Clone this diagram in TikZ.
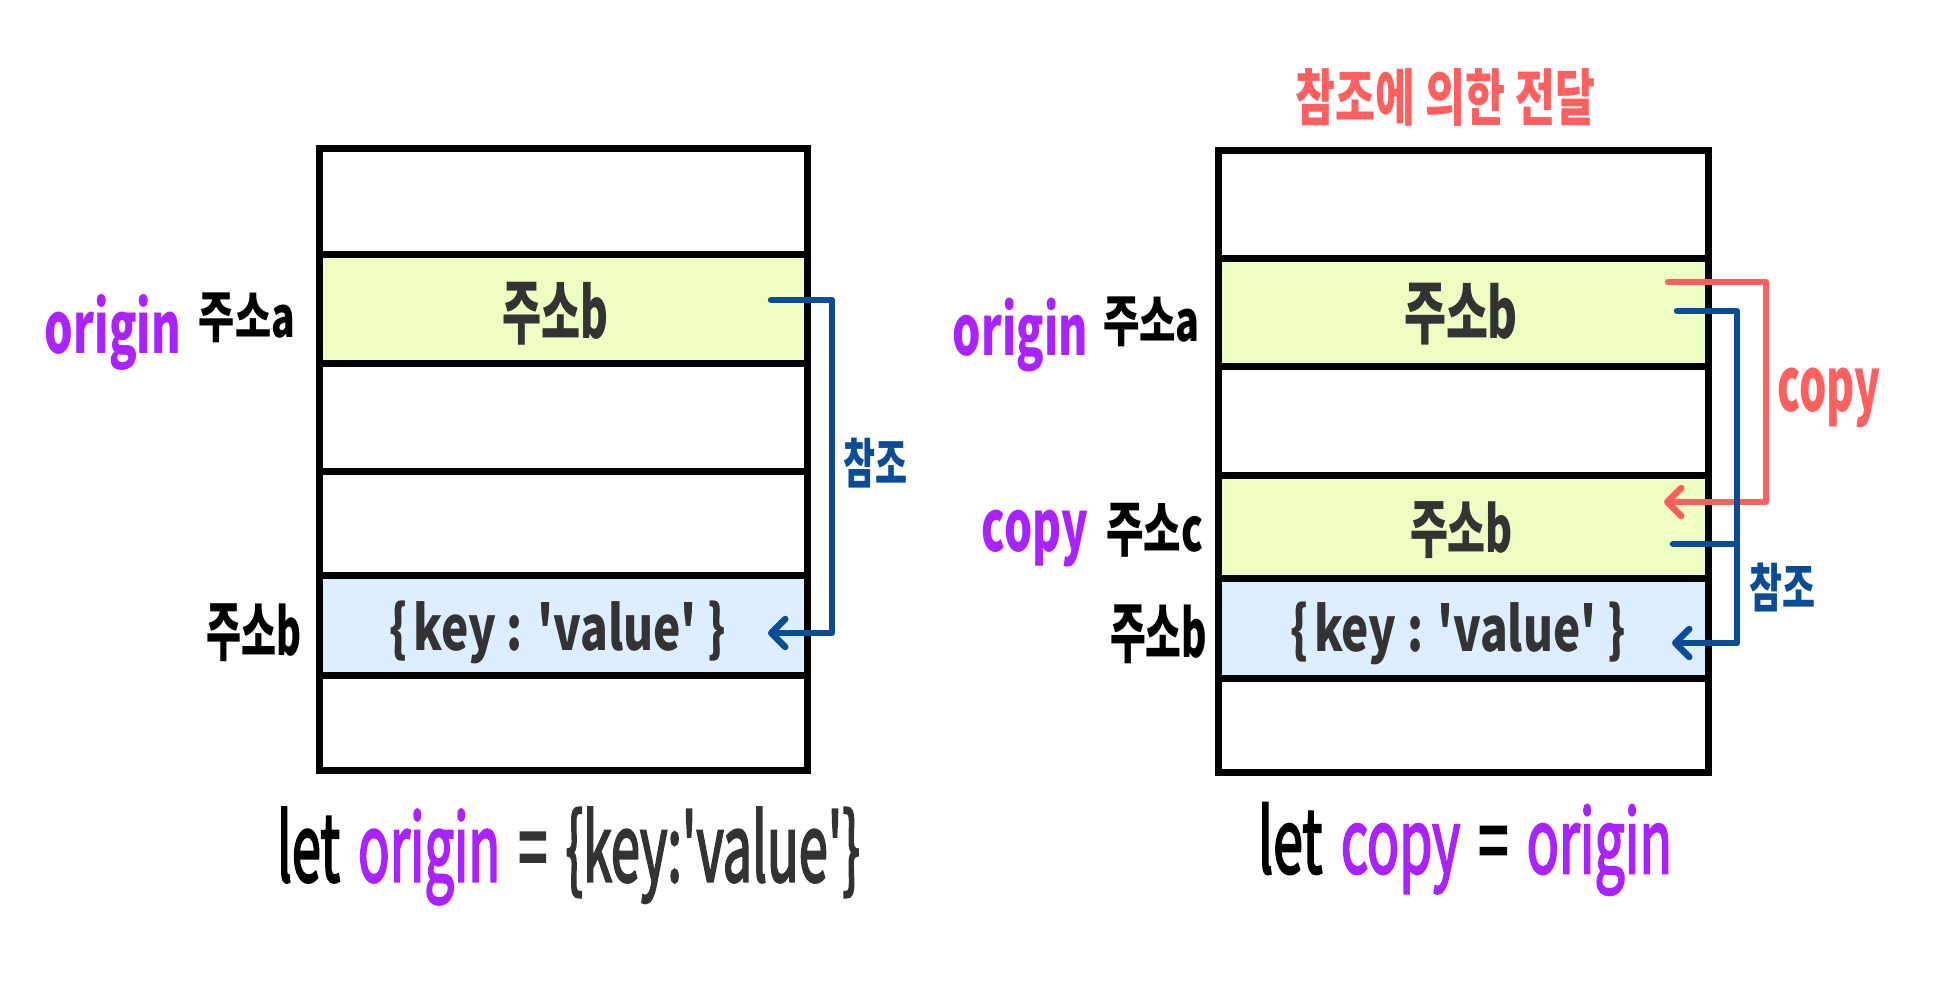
\documentclass[tikz,border=0pt]{standalone}
\usepackage{fontspec}
\usepackage{graphicx}
\setmainfont{Noto Sans CJK KR}
\newfontfamily\codefont{Noto Sans CJK KR}[FakeBold=3]
\usetikzlibrary{arrows.meta}
\definecolor{cpurple}{HTML}{AA22FF}
\definecolor{cred}{HTML}{FF5F5F}
\definecolor{cblue}{HTML}{0B4C96}
\definecolor{cgreen}{HTML}{EEFDC2}
\definecolor{clblue}{HTML}{DCEEFF}
\definecolor{cdark}{HTML}{333333}
\newcommand{\fitbox}[4]{\resizebox*{#1pt}{#2pt}{\bfseries\color{#3}#4}}
\newcommand{\fitboxr}[4]{\resizebox*{#1pt}{#2pt}{\codefont\color{#3}#4}}
\newcommand{\gap}{\hspace{0.12em}}
\begin{document}
\begin{tikzpicture}[x=1pt,y=-1pt,
  txt/.style={inner sep=0pt,outer sep=0pt,anchor=center},
  cellL/.style={draw=black,line width=7pt,minimum width=488.5pt,inner sep=0pt,outer sep=0pt},
  cellR/.style={draw=black,line width=7pt,minimum width=490.5pt,inner sep=0pt,outer sep=0pt},
  conn/.style={line width=6.5pt,line cap=round,line join=round},
  tipR/.style={-{Straight Barb[length=14pt,width=28pt,round]}}]
\useasboundingbox (0,0) rectangle (1946,1000);
\fill[white] (0,0) rectangle (1946,1000);
% left memory
\node[cellL,minimum height=106pt] (L1) at (563.25,202) {};
\node[cellL,minimum height=108pt,fill=cgreen] (L2) at (563.25,309) {};
\node[cellL,minimum height=108pt] (L3) at (563.25,417) {};
\node[cellL,minimum height=104pt] (L4) at (563.25,523) {};
\node[cellL,minimum height=100pt,fill=clblue] (L5) at (563.25,625) {};
\node[cellL,minimum height=95pt] (L6) at (563.25,722.5) {};
% right memory
\node[cellR,minimum height=108pt] (R1) at (1463.25,205) {};
\node[cellR,minimum height=107pt,fill=cgreen] (R2) at (1463.25,312.5) {};
\node[cellR,minimum height=109pt] (R3) at (1463.25,420.5) {};
\node[cellR,minimum height=103pt,fill=cgreen] (R4) at (1463.25,526.5) {};
\node[cellR,minimum height=100pt,fill=clblue] (R5) at (1463.25,628) {};
\node[cellR,minimum height=94pt] (R6) at (1463.25,725) {};
% left texts
\node[txt] (lorigin) at (113,332) {\fitbox{136}{76}{cpurple}{origin}};
\node[txt] (laddra) at (247,318) {\fitbox{96}{50}{black}{주소a}};
\node[txt] (lval) at (555.5,313.3) {\fitbox{106}{63}{cdark}{주소b}};
\node[txt] (lref) at (875,463) {\fitbox{64}{50}{cblue}{참조}};
\node[txt] (laddrb) at (254.5,633) {\fitbox{95}{58}{black}{주소b}};
\node[txt] (lobj) at (558,632) {\fitbox{336}{63}{cdark}{\{\gap key : \textquotesingle value\textquotesingle\ \}}};
\node[txt] (lcode) at (568.5,856) {\fitboxr{583}{97}{black}{let\gap\ \textcolor{cpurple}{origin}\gap\ \textcolor{cdark}{=\gap\ \{key:\textquotesingle value\textquotesingle\}}}};
% right texts
\node[txt] (title) at (1445.5,97) {\fitbox{299}{58}{cred}{참조에 의한 전달}};
\node[txt] (rorigin) at (1020.5,335) {\fitbox{135}{74}{cpurple}{origin}};
\node[txt] (raddra) at (1151.5,322) {\fitbox{97}{50}{black}{주소a}};
\node[txt] (rval1) at (1461,314) {\fitbox{114}{62}{cdark}{주소b}};
\node[txt] (rcopylbl) at (1829,398) {\fitbox{103}{60}{cred}{copy}};
\node[txt] (rcopy) at (1035,538.5) {\fitbox{106}{57}{cpurple}{copy}};
\node[txt] (raddrc) at (1154.5,530) {\fitbox{97}{54}{black}{주소c}};
\node[txt] (rval2) at (1461.5,530) {\fitbox{103}{57}{cdark}{주소b}};
\node[txt] (rref) at (1782,587.5) {\fitbox{66}{49}{cblue}{참조}};
\node[txt] (raddrb) at (1158.5,634.5) {\fitbox{97}{59}{black}{주소b}};
\node[txt] (robj) at (1458,633) {\fitbox{335}{63}{cdark}{\{\gap key : \textquotesingle value\textquotesingle\ \}}};
\node[txt] (rcode) at (1465,849) {\fitboxr{414}{92}{black}{let\gap\ \textcolor{cpurple}{copy}\gap\ =\gap\ \textcolor{cpurple}{origin}}};
% left connector
\coordinate (la0) at (771,300);
\coordinate (la1) at (768,633);
\coordinate (lav) at (832,0);
\draw[conn,cblue,tipR] (la0) -- (la0 -| lav) -- (lav |- la1) -- (la1);
% right copy connector
\coordinate (ra0) at (1668,282);
\coordinate (ra1) at (1664,502);
\coordinate (rav) at (1766,0);
\draw[conn,cred,tipR] (ra0) -- (ra0 -| rav) -- (rav |- ra1) -- (ra1);
% right reference connectors
\coordinate (rb0) at (1677,311);
\coordinate (rb1) at (1672,643);
\coordinate (rb2) at (1673,544);
\coordinate (rbv) at (1737,0);
\draw[conn,cblue,tipR] (rb0) -- (rb0 -| rbv) -- (rbv |- rb1) -- (rb1);
\draw[conn,cblue] (rb2) -- (rb2 -| rbv);
\end{tikzpicture}
\end{document}
